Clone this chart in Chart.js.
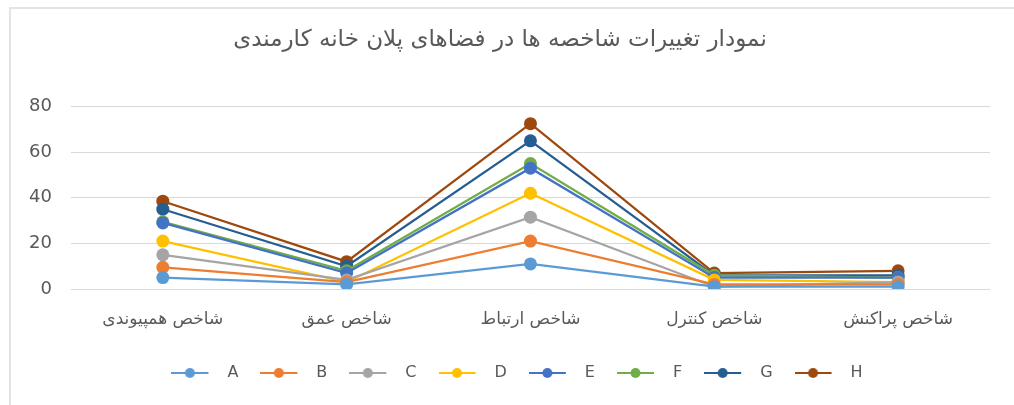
<!DOCTYPE html>
<html>
<head>
<meta charset="utf-8">
<script src="https://cdn.jsdelivr.net/npm/chart.js@4"></script>
<style>
  body { margin: 0; background: #fff; }
  #wrap { position: relative; width: 1014px; height: 405px; }
  #frame { position: absolute; left: 9px; top: 7px; right: 0; bottom: 0;
           border-left: 2px solid #e4e4e4; border-top: 2px solid #e4e4e4; }
  canvas { position: absolute; left: 0; top: 0; }
</style>
</head>
<body>
<div id="wrap">
  <div id="frame"></div>
  <canvas id="chart" width="1014" height="405"></canvas>
</div>
<script>
// categories and values
const categories = ["شاخص همپیوندی", "شاخص عمق", "شاخص ارتباط", "شاخص کنترل", "شاخص پراکنش"];
const yTicks = [0, 20, 40, 60, 80];

const seriesA = [5, 2, 11, 1, 1];
const seriesB = [9.5, 3, 21, 2, 2];
const seriesC = [15, 4, 31.5, 1, 3];
const seriesD = [21, 3, 42, 4, 3];
const seriesE = [29, 7, 53, 5, 5];
const seriesF = [29.5, 8, 55, 6, 5];
const seriesG = [35, 10, 65, 6, 6];
const seriesH = [38.5, 12, 72.5, 7, 8];

const names = ["A", "B", "C", "D", "E", "F", "G", "H"];
const colors = ['#5B9BD5', '#ED7D31', '#A5A5A5', '#FFC000', '#4472C4', '#70AD47', '#255E91', '#9E480E'];
const allSeries = [seriesA, seriesB, seriesC, seriesD, seriesE, seriesF, seriesG, seriesH];

const fontFam = '"DejaVu Sans", "Liberation Sans", sans-serif';

// small line + dot picture for the legend, like Excel
// (canvas is wider than the line so there is a gap before the letter)
const legendMark = (color) => {
    const c = document.createElement('canvas');
    c.width = 48;
    c.height = 14;
    const ctx = c.getContext('2d');
    ctx.strokeStyle = color;
    ctx.lineWidth = 2;
    ctx.beginPath();
    ctx.moveTo(0, 7);
    ctx.lineTo(37, 7);
    ctx.stroke();
    ctx.fillStyle = color;
    ctx.beginPath();
    ctx.arc(18.5, 7, 5, 0, Math.PI * 2);
    ctx.fill();
    return c;
};

const datasets = allSeries.map((values, i) => ({
    label: names[i],
    data: values,
    borderColor: colors[i],
    backgroundColor: colors[i],
    borderWidth: 2.25,
    pointRadius: 6.5,
    pointHoverRadius: 6.5,
    pointBorderWidth: 0,
    pointStyle: 'circle',
    legendImg: legendMark(colors[i]),
    tension: 0
}));

// the legend in the picture sits a bit right of the middle
const legendShift = {
    id: 'legendShift',
    afterLayout(chart) {
        chart.legend.left += 17;
        chart.legend.right += 17;
    }
};

new Chart(document.getElementById('chart'), {
    type: 'line',
    data: { labels: categories, datasets: datasets },
    plugins: [legendShift],
    options: {
        responsive: false,
        animation: false,
        layout: { padding: { top: 10, left: 10, right: 24, bottom: 14 } },
        scales: {
            x: {
                offset: true,
                grid: { display: false },
                border: { display: false },
                ticks: { color: '#595959', font: { family: fontFam, size: 17 }, padding: 12 },
                afterFit: (scale) => { scale.height = 54; }
            },
            y: {
                min: 0,
                max: 80,
                afterBuildTicks: (axis) => { axis.ticks = yTicks.map(v => ({ value: v })); },
                grid: { color: '#d9d9d9', lineWidth: 1, drawTicks: false },
                border: { display: false },
                ticks: { color: '#595959', font: { family: fontFam, size: 18 }, padding: 19 }
            }
        },
        plugins: {
            title: {
                display: true,
                text: 'نمودار تغییرات شاخصه ها در فضاهای پلان خانه کارمندی',
                color: '#595959',
                font: { family: fontFam, size: 23, weight: 'normal' },
                padding: { top: 16, bottom: 53 }
            },
            legend: {
                position: 'bottom',
                labels: {
                    usePointStyle: true,
                    pointStyleWidth: 48,
                    color: '#595959',
                    font: { family: fontFam, size: 16 },
                    padding: 22,
                    generateLabels: (chart) => chart.data.datasets.map((ds, i) => ({
                        text: ds.label,
                        pointStyle: ds.legendImg,
                        fillStyle: ds.borderColor,
                        strokeStyle: ds.borderColor,
                        fontColor: '#595959',
                        lineWidth: 0,
                        datasetIndex: i,
                        hidden: false
                    }))
                }
            },
            tooltip: { enabled: false }
        }
    }
});
</script>
</body>
</html>
